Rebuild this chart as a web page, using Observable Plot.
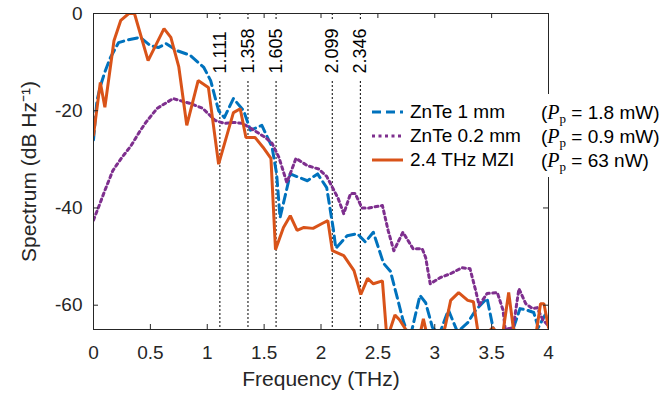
<!DOCTYPE html>
<html><head><meta charset="utf-8">
<script src="https://cdn.jsdelivr.net/npm/d3@7"></script>
<script src="https://cdn.jsdelivr.net/npm/@observablehq/plot@0.6"></script>
<style>
body{margin:0;background:#fff;font-family:"Liberation Sans",Arial,sans-serif;}
#wrap{position:relative;width:670px;height:393px;overflow:hidden;}
#legend{position:absolute;left:364px;top:94px;width:306px;height:83px;background:#fff;color:#000;font-size:19px;}
.row{position:absolute;left:0;height:24px;line-height:24px;white-space:nowrap;}
.row svg{position:absolute;left:8px;top:7px;}
.lab{position:absolute;left:46px;}
.pp{position:absolute;left:177px;}
.pp i{font-family:"Liberation Serif","Times New Roman",serif;font-size:20px;}
.pp sub{font-family:"Liberation Serif","Times New Roman",serif;font-size:13px;vertical-align:-4px;line-height:0;}
</style></head><body><div id="wrap"></div>
<script>
// ---- data ----
const xTicks = [0, 0.5, 1, 1.5, 2, 2.5, 3, 3.5, 4];
const xTickLabels = ["0", "0.5", "1", "1.5", "2", "2.5", "3", "3.5", "4"];
const yTicks = [-60, -40, -20, 0];
const yTickLabels = ["-60", "-40", "-20", "0"];
const markerFreqs = [1.111, 1.358, 1.605, 2.099, 2.346];
const markerLabels = ["1.111", "1.358", "1.605", "2.099", "2.346"];

const seriesNames = ["ZnTe 1 mm", "ZnTe 0.2 mm", "2.4 THz MZI"];
const seriesPower = ["1.8 mW", "0.9 mW", "63 nW"];
const seriesColors = ["#0072BD", "#7E2F8E", "#D95319"];

const freqZnTe1 = [0,0.03,0.06,0.1,0.15,0.22,0.29,0.41,0.5,0.57,0.64,0.73,0.85,0.97,1.03,1.1,1.15,1.23,1.32,1.38,1.48,1.57,1.61,1.64,1.73,1.88,1.97,2.05,2.11,2.13,2.23,2.32,2.39,2.46,2.55,2.61,2.67,2.72,2.78,2.87,2.92,2.98,3.04,3.12,3.2,3.29,3.36,3.46,3.52,3.6,3.68,3.75,3.81,3.87,3.91,3.97,4.0];
const specZnTe1 = [-26,-18,-15,-12,-9,-6,-5.5,-4.9,-6.6,-7,-6.2,-7.6,-8.6,-11.1,-13.8,-20,-21.4,-17.5,-20,-24,-23,-27.5,-33,-42,-33,-34.4,-33,-35.8,-44.6,-48.3,-45.7,-45.3,-47,-45,-51.4,-53,-58.4,-63,-67,-58,-59.5,-64.6,-66,-61,-65.5,-63.6,-61,-58.6,-65.5,-66,-65.5,-60.7,-61,-61.5,-64.6,-62,-62.5];

const freqZnTe02 = [0,0.05,0.1,0.17,0.25,0.33,0.4,0.46,0.56,0.7,0.85,0.96,1.07,1.15,1.23,1.31,1.41,1.51,1.57,1.63,1.7,1.78,1.88,1.98,2.05,2.15,2.2,2.26,2.3,2.36,2.42,2.54,2.59,2.64,2.72,2.81,2.89,2.92,2.96,3.05,3.14,3.24,3.31,3.36,3.39,3.46,3.55,3.6,3.62,3.69,3.74,3.8,3.86,3.9,3.95,3.99];
const specZnTe02 = [-42.5,-39.5,-36.4,-32.3,-29.6,-27.2,-24.5,-22.4,-19.5,-17.5,-18.5,-19.5,-22,-22.6,-22.4,-22.6,-24,-25.5,-26.7,-29.6,-34.8,-29.8,-31.3,-32,-33.5,-38,-41.2,-37,-37,-40,-40,-39.5,-44.6,-48.8,-45,-48.4,-48.4,-50.2,-55.6,-54.3,-53.5,-52.3,-52.5,-57,-60,-57.6,-57.4,-61,-65,-64.6,-56.6,-59.7,-60.7,-60.5,-63,-64];

const freqMZI = [0,0.06,0.1,0.18,0.24,0.31,0.36,0.48,0.62,0.68,0.75,0.82,0.92,1.01,1.1,1.23,1.29,1.34,1.42,1.49,1.56,1.6,1.67,1.73,1.79,1.85,1.93,2.01,2.06,2.1,2.2,2.29,2.35,2.41,2.46,2.54,2.58,2.65,2.69,2.74,2.8,2.87,2.9,2.94,3.02,3.09,3.14,3.21,3.29,3.34,3.38,3.45,3.51,3.56,3.6,3.65,3.69,3.76,3.84,3.89,3.93,3.96,4.0];
const specMZI = [-25,-14.2,-19.3,-5.6,-1.4,0,0,-9.7,-3.1,-4.9,-11,-23,-13.8,-15.2,-31,-20.4,-19.6,-25.5,-25.5,-27.5,-29.8,-48.6,-44,-41.6,-44.6,-44,-44.2,-43.2,-42.6,-48.8,-49.8,-52.9,-57.8,-54.5,-55.6,-55,-67,-62,-63,-64.8,-68,-66,-62.8,-67,-68,-64.6,-59,-57.4,-59,-59.3,-65.5,-66,-64.6,-66,-65.5,-57.4,-64.6,-68,-67,-66,-59.7,-59.7,-64.6];

// ---- layout ----
const W = 670, H = 393, mL = 93, mR = 122, mT = 13, mB = 64;
const fw = W - mL - mR, fh = H - mT - mB;
const tickLen = 5;
const axisColor = "#262626";

const toRows = (xs, ys) => xs.map((x, i) => ({x, y: ys[i]}));
const dZnTe1 = toRows(freqZnTe1, specZnTe1);
const dZnTe02 = toRows(freqZnTe02, specZnTe02);
const dMZI = toRows(freqMZI, specMZI);

const chart = Plot.plot({
  width: W, height: H,
  marginLeft: mL, marginRight: mR, marginTop: mT, marginBottom: mB,
  style: {fontFamily: "'Liberation Sans', Arial, sans-serif", fontSize: "19px", color: axisColor, background: "white"},
  x: {domain: [0, 4]},
  y: {domain: [-65, 0]},
  marks: [
    // dotted marker lines
    Plot.ruleX(markerFreqs, {x: d => d, stroke: "black", strokeWidth: 1, strokeDasharray: "2,2"}),
    // white backing behind marker labels
    Plot.ruleX(markerFreqs, {x: d => d, stroke: "white", strokeWidth: 18, insetTop: 7, insetBottom: fh - 67}),
    Plot.text(markerFreqs, {x: d => d, frameAnchor: "top", dy: 60, text: (d, i) => markerLabels[i], rotate: -90, textAnchor: "start", lineAnchor: "middle", fontSize: 18, fill: "black"}),
    // curves
    Plot.line(dZnTe1, {x: "x", y: "y", stroke: seriesColors[0], strokeWidth: 3, strokeDasharray: "9,5", clip: true}),
    Plot.line(dZnTe02, {x: "x", y: "y", stroke: seriesColors[1], strokeWidth: 3, strokeDasharray: "3,3.5", clip: true}),
    Plot.line(dMZI, {x: "x", y: "y", stroke: seriesColors[2], strokeWidth: 3, strokeLinejoin: "miter", clip: true}),
    // box
    Plot.frame({stroke: axisColor, strokeWidth: 1}),
    // inward ticks on all four sides
    Plot.tickX(xTicks, {x: d => d, insetTop: fh - tickLen, stroke: axisColor}),
    Plot.tickX(xTicks, {x: d => d, insetBottom: fh - tickLen, stroke: axisColor}),
    Plot.tickY(yTicks, {y: d => d, insetRight: fw - tickLen, stroke: axisColor}),
    Plot.tickY(yTicks, {y: d => d, insetLeft: fw - tickLen, stroke: axisColor}),
    // tick labels
    Plot.axisX(xTicks, {anchor: "bottom", tickSize: 0, tickPadding: 16, tickFormat: (d, i) => xTickLabels[i], fill: axisColor, label: null}),
    Plot.axisY(yTicks, {anchor: "left", tickSize: 0, tickPadding: 11, tickFormat: (d, i) => yTickLabels[i], fill: axisColor, label: null}),
    // axis titles
    Plot.text(["Frequency (THz)"], {frameAnchor: "bottom", dy: 50, lineAnchor: "middle", fontSize: 21, fill: axisColor}),
    Plot.text(["Spectrum (dB Hz\u207B\u00B9)"], {frameAnchor: "left", dx: -64, rotate: -90, textAnchor: "middle", lineAnchor: "middle", fontSize: 21, fill: axisColor})
  ]
});

const wrap = document.getElementById("wrap");
wrap.appendChild(chart);

// legend
const legend = document.createElement("div");
legend.id = "legend";
const dashes = ["9,5", "3,3.5", null];
seriesNames.forEach((name, i) => {
  const row = document.createElement("div");
  row.className = "row";
  row.style.top = (6 + i * 24) + "px";
  row.innerHTML =
    `<svg width="32" height="10"><line x1="0" y1="5" x2="31" y2="5" stroke="${seriesColors[i]}" stroke-width="3" ${dashes[i] ? `stroke-dasharray="${dashes[i]}"` : ""}/></svg>` +
    `<span class="lab">${name}</span>` +
    `<span class="pp">(<i>P</i><sub>p</sub> = ${seriesPower[i]})</span>`;
  legend.appendChild(row);
});
wrap.appendChild(legend);
</script>
</body></html>
